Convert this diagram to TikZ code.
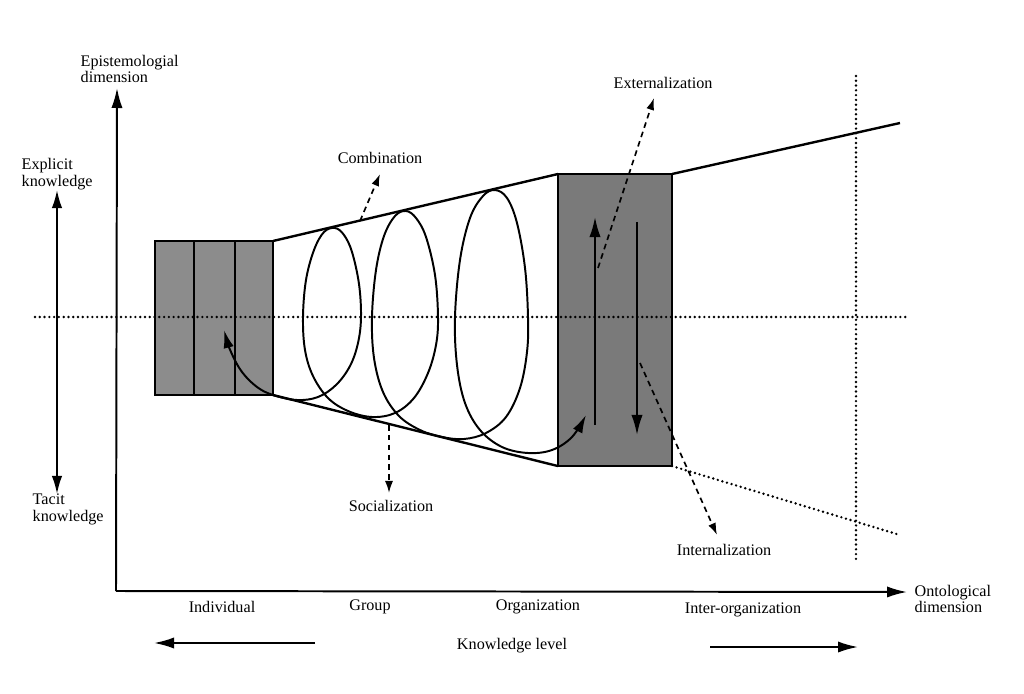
\documentclass[tikz,border=0pt]{standalone}
\usepackage{fontspec}
\setmainfont{Liberation Serif}
\usetikzlibrary{positioning,arrows.meta}
\tikzset{
  lbl/.style   ={font=\fontsize{11.5}{12}\selectfont, inner sep=1pt, align=left},
  blk/.style   ={rectangle, draw=black, line width=1.2pt, fill=black!45, inner sep=0pt,
                 outer sep=0pt, minimum height=38.5mm},
  orgblk/.style={blk, fill=black!52, minimum width=28.5mm, minimum height=73mm},
  arr/.style   ={-{Latex[length=5mm,width=2.8mm]}, line width=1.4pt},
  darr/.style  ={{Latex[length=4.5mm,width=2.6mm]}-{Latex[length=4.5mm,width=2.6mm]}, line width=1.4pt},
  funnel/.style={line width=1.7pt},
  spiral/.style={{Latex[length=4.5mm,width=2.6mm]}-{Latex[length=4.5mm,width=2.6mm]}, line width=1.4pt},
  dotline/.style={line width=1.9pt, line cap=round, dash pattern=on 0pt off 3.4pt},
  dasharr/.style={-{Latex[length=3mm,width=2mm]}, line width=1.2pt, dash pattern=on 4pt off 3pt},
}

\begin{document}
\begin{tikzpicture}[x=0.025cm, y=-0.025cm]
  \useasboundingbox (0,0) rectangle (1024,694);

  % knowledge levels (blocks)
  \node[blk, minimum width=9.75mm, anchor=north west] (indA) at (155,241) {};
  \node[blk, minimum width=10.25mm, right=0mm of indA] (indB) {};
  \node[blk, minimum width=9.5mm, right=0mm of indB] (indC) {};
  \node[orgblk, anchor=north west] (org) at (558,174) {};

  % dotted guide lines
  \coordinate (midL) at (35,317);
  \coordinate (midR) at (908,317);
  \coordinate (vTop) at (856,76);
  \coordinate (vBot) at (856,563);
  \coordinate (lowEnd) at (900,535);
  \draw[dotline] (midL) -- (midR);
  \draw[dotline] (vTop) -- (vBot);
  \draw[dotline] (org.south east) -- (lowEnd);

  % funnel
  \coordinate (upEnd) at (900,123);
  \draw[funnel] (indC.north east) -- (org.north west);
  \draw[funnel] (indC.south east) -- (org.south west);
  \draw[funnel] (org.north east) -- (upEnd);

  % axes
  \coordinate (o) at (116,591);
  \coordinate (yTip) at (117,88);
  \coordinate (xTip) at (907,592);
  \draw[arr] (o) -- (yTip);
  \draw[arr] (o) -- (xTip);
  \coordinate (expTop) at (57,190);
  \coordinate (tacBot) at (57,494);
  \draw[darr] (tacBot) -- (expTop);

  % spiral
  \draw[spiral] plot[smooth, tension=0.6] coordinates {
    (224,330) (231,352) (242,372) (257,387) (273,395) (297,400) (318,397)
    (336,385) (350,366) (358,343) (361,317) (359,284) (352,252) (344,235)
    (335,228) (324,232) (314,250) (306,280) (303,317) (305,350) (313,376)
    (328,398) (348,411) (372,417) (395,413) (414,398) (428,373) (436,345)
    (438,317) (435,275) (426,237) (416,218) (406,211) (395,216) (384,236)
    (376,270) (372,317) (374,358) (383,392) (399,416) (420,430) (442,437)
    (464,439) (486,433) (506,417) (520,388) (527,352) (528,317) (525,268)
    (517,223) (507,198) (495,190) (483,196) (470,218) (460,260) (455,317)
    (457,365) (465,403) (480,430) (502,447) (528,453) (552,450) (572,437)
    (586,415)};

  % conversion arrows in organization block
  \coordinate (upS) at (595,425);
  \coordinate (upT) at (595,217);
  \coordinate (dnS) at (637,222);
  \coordinate (dnT) at (637,435);
  \draw[arr] (upS) -- (upT);
  \draw[arr] (dnS) -- (dnT);

  % labels
  \node[lbl, anchor=west] (epi) at (79,69) {Epistemologial\\dimension};
  \node[lbl, anchor=west] (expl) at (20,174) {Explicit\\knowledge};
  \node[lbl, anchor=west] (tacit) at (31,509) {Tacit\\knowledge};
  \node[lbl, anchor=west] (onto) at (913,599) {Ontological\\dimension};
  \node[lbl] (comb) at (380,158) {Combination};
  \node[lbl] (soc) at (391,506) {Socialization};
  \node[lbl] (ext) at (663,83) {Externalization};
  \node[lbl] (int) at (724,550) {Internalization};
  \node[lbl] (indiv) at (222,607) {Individual};
  \node[lbl] (grp) at (370,607) {Group};
  \node[lbl] (orgz) at (538,607) {Organization};
  \node[lbl] (inter) at (743,610) {Inter-organization};
  \node[lbl] (klev) at (512,646) {Knowledge level};

  % dashed pointers
  \coordinate (combS) at (360,221);
  \coordinate (combT) at (380,174);
  \coordinate (socS) at (389,425);
  \coordinate (socT) at (389,493);
  \coordinate (extS) at (598,268);
  \coordinate (extT) at (654,98);
  \coordinate (intS) at (640,363);
  \coordinate (intT) at (717,535);
  \draw[dasharr] (combS) -- (combT);
  \draw[dasharr] (socS) -- (socT);
  \draw[dasharr] (extS) -- (extT);
  \draw[dasharr] (intS) -- (intT);

  % knowledge level arrows
  \coordinate (klL) at (315,643);
  \coordinate (klLt) at (154,643);
  \coordinate (klR) at (710,647);
  \coordinate (klRt) at (858,647);
  \draw[arr] (klL) -- (klLt);
  \draw[arr] (klR) -- (klRt);
\end{tikzpicture}
\end{document}
